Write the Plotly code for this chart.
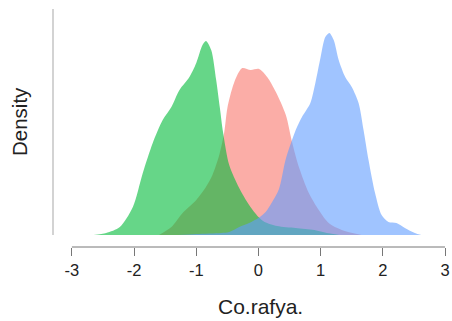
import plotly.graph_objects as go

# Kernel density estimates of Co.rafya. for three groups (x, density)
red_x = [-1.60, -1.40, -1.22, -1.00, -0.845, -0.74, -0.63, -0.55, -0.50, -0.42, -0.34, -0.26,
         -0.125, 0.01, 0.14, 0.28, 0.44, 0.54, 0.65, 0.81, 0.97, 1.13, 1.34, 1.66]
red_y = [0.000, 0.032, 0.088, 0.140, 0.192, 0.240, 0.320, 0.412, 0.508, 0.588, 0.640, 0.668,
         0.660, 0.664, 0.632, 0.572, 0.480, 0.372, 0.272, 0.168, 0.100, 0.048, 0.020, 0.000]

green_x = [-2.65, -2.45, -2.23, -2.02, -1.86, -1.70, -1.54, -1.40, -1.27, -1.11, -1.00, -0.90,
           -0.845, -0.76, -0.68, -0.62, -0.57, -0.47, -0.31, -0.15, 0.00, 0.10, 0.30, 0.60,
           0.90, 1.10, 1.30]
green_y = [0.000, 0.008, 0.032, 0.112, 0.248, 0.368, 0.460, 0.512, 0.580, 0.632, 0.688, 0.760,
           0.776, 0.740, 0.620, 0.508, 0.412, 0.280, 0.188, 0.120, 0.072, 0.052, 0.036, 0.028,
           0.020, 0.008, 0.000]

blue_x = [-1.30, -1.00, -0.60, -0.47, -0.31, -0.15, 0.00, 0.115, 0.22, 0.33, 0.435, 0.54,
          0.62, 0.70, 0.835, 0.915, 1.00, 1.075, 1.14, 1.21, 1.29, 1.395, 1.50, 1.61, 1.69,
          1.77, 1.875, 1.98, 2.09, 2.22, 2.355, 2.515, 2.62]
blue_y = [0.000, 0.004, 0.008, 0.012, 0.032, 0.048, 0.068, 0.092, 0.132, 0.184, 0.300, 0.380,
          0.432, 0.472, 0.528, 0.608, 0.712, 0.792, 0.808, 0.780, 0.700, 0.632, 0.592, 0.528,
          0.420, 0.300, 0.168, 0.080, 0.052, 0.048, 0.028, 0.008, 0.000]

x_ticks = [-3, -2, -1, 0, 1, 2, 3]

series = [
    (red_x, red_y, "rgba(248,118,109,0.6)"),
    (green_x, green_y, "rgba(0,186,56,0.6)"),
    (blue_x, blue_y, "rgba(97,156,255,0.6)"),
]

fig = go.Figure()
for xs, ys, col in series:
    fig.add_trace(go.Scatter(
        x=xs, y=ys, mode="lines", fill="tozeroy", fillcolor=col,
        line=dict(width=0, shape="spline", smoothing=0.8, color=col),
        hoverinfo="skip", showlegend=False,
    ))

y_top = 0.904
fig.update_layout(
    width=452, height=321,
    margin=dict(l=53, r=2, t=9, b=74),
    paper_bgcolor="white", plot_bgcolor="white",
    font=dict(family="Liberation Sans, Arial, sans-serif", color="#222222"),
    xaxis=dict(
        range=[-3.304, 3.048], tickvals=x_ticks, ticktext=[str(v) for v in x_ticks],
        showgrid=False, zeroline=False, showline=False,
        ticks="outside", ticklen=8, tickwidth=1, tickcolor="#777777",
        tickfont=dict(size=16.5, color="#222222"),
    ),
    yaxis=dict(
        range=[-0.048, y_top], showticklabels=False, showgrid=False,
        zeroline=False, showline=False, ticks="",
    ),
    shapes=[
        # y axis line
        dict(type="line", xref="paper", yref="y", x0=0, x1=0, y0=0, y1=y_top,
             line=dict(color="#c4c4c4", width=1.5)),
        # x axis line spanning the tick range
        dict(type="line", xref="x", yref="paper", x0=-3, x1=3, y0=0, y1=0,
             line=dict(color="#777777", width=1)),
    ],
    annotations=[
        dict(text="Co.rafya.", xref="paper", yref="paper", x=0.5255, y=0, yshift=-59,
             showarrow=False, font=dict(size=21, color="#222222"), yanchor="middle"),
        dict(text="Density", xref="paper", yref="y", x=0, xshift=-34, y=y_top / 2,
             showarrow=False, textangle=-90, font=dict(size=20.5, color="#222222"),
             xanchor="center", yanchor="middle"),
    ],
)

fig.write_html("out.html")
